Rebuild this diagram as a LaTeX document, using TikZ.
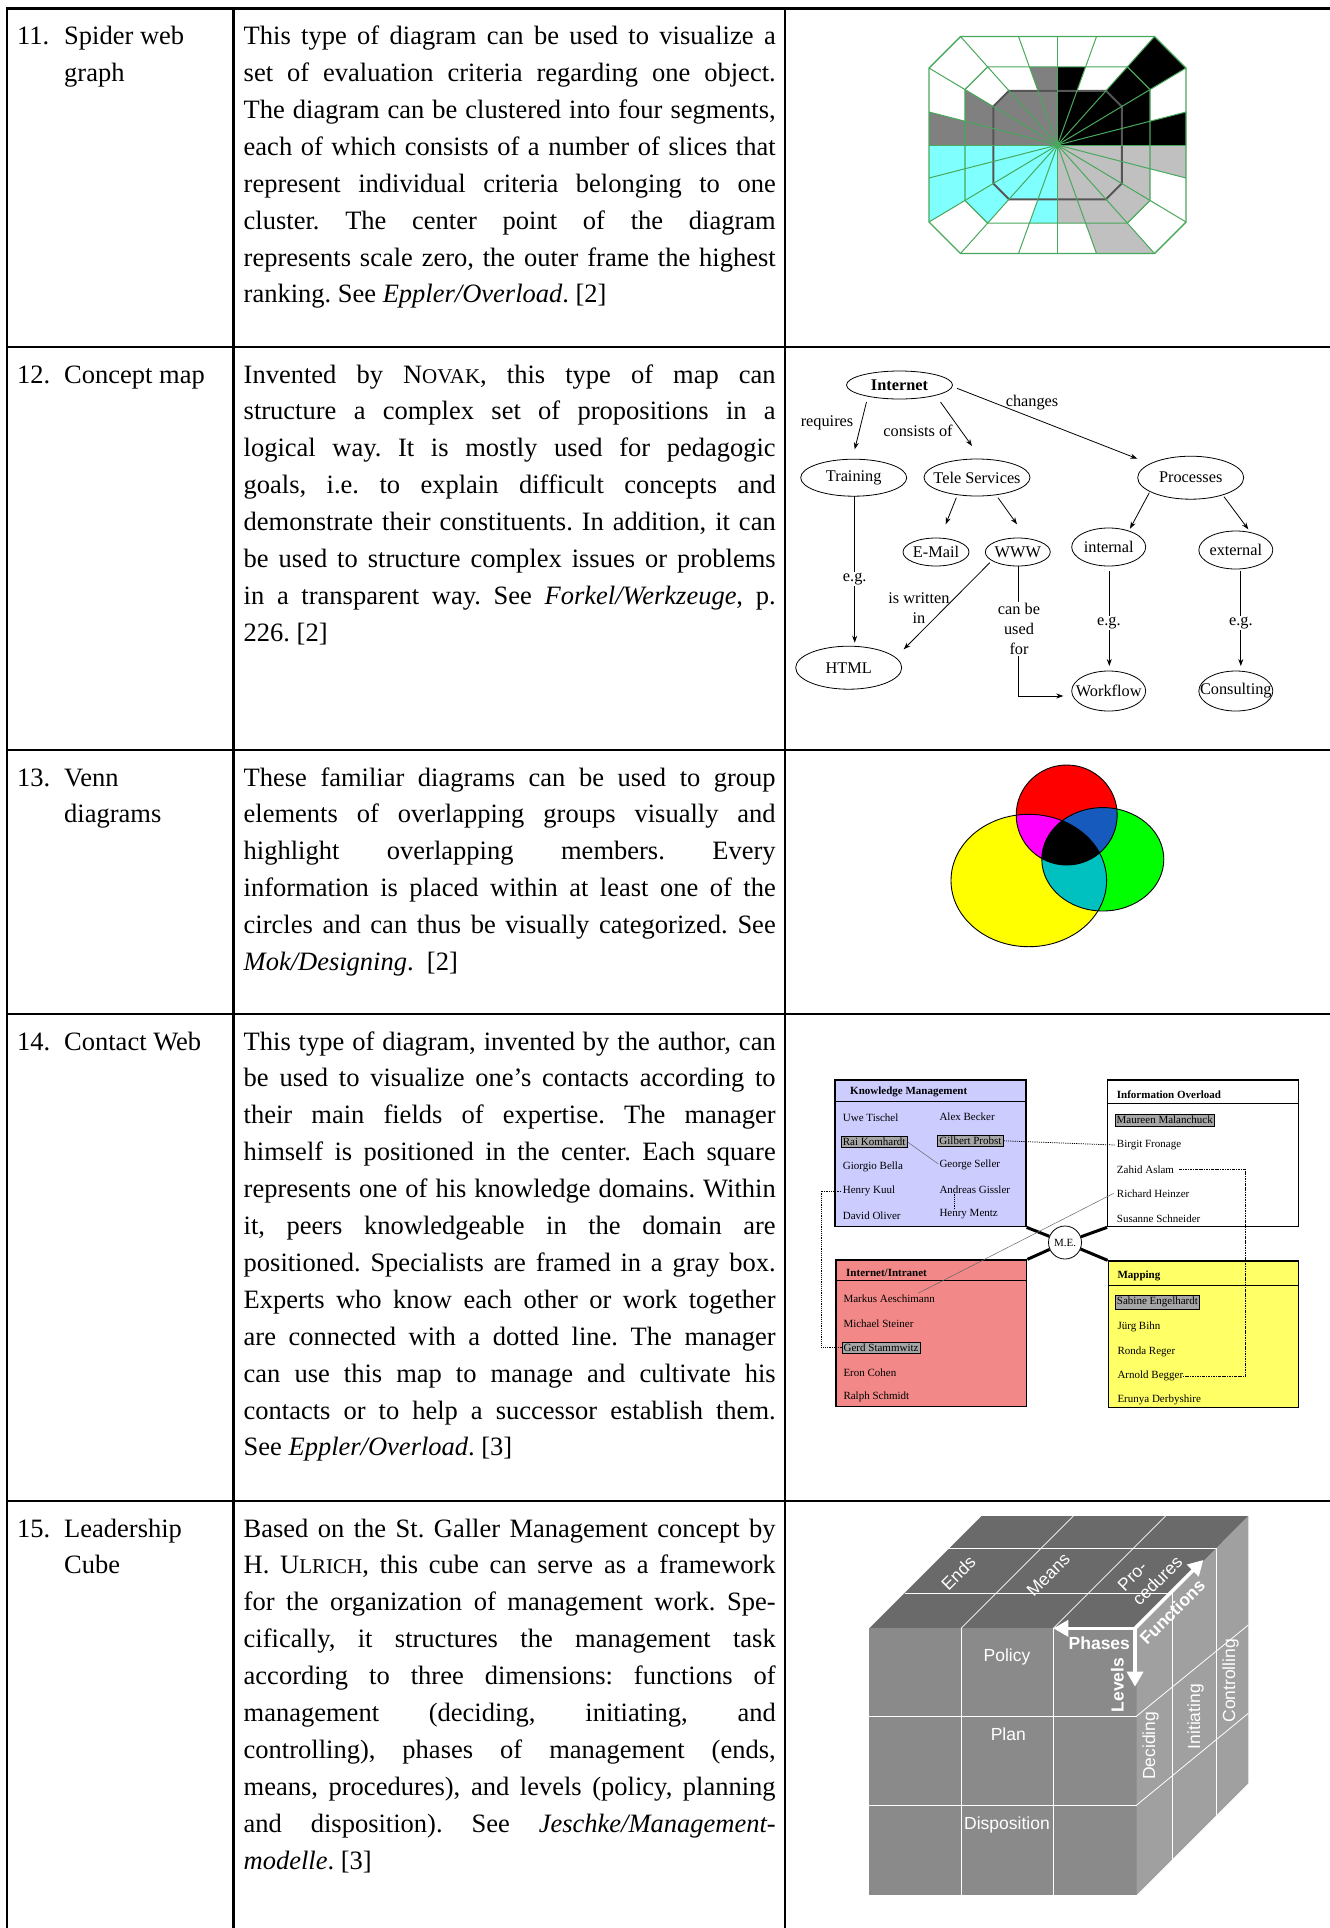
\documentclass[tikz,border=0pt]{standalone}
\usepackage{fontspec}
\setmainfont{Liberation Serif}
\newfontfamily\sansf{Liberation Sans}
\usetikzlibrary{shapes.geometric,arrows.meta,calc}
\frenchspacing

% colours
\definecolor{swgreen}{RGB}{72,168,92}
\definecolor{swdark}{RGB}{128,128,128}
\definecolor{swlight}{RGB}{192,192,192}
\definecolor{swcyan}{RGB}{128,255,255}
\definecolor{swring}{RGB}{85,85,85}
\definecolor{vRed}{RGB}{255,0,0}
\definecolor{vGreen}{RGB}{0,255,0}
\definecolor{vYel}{RGB}{255,255,0}
\definecolor{vMag}{RGB}{255,0,255}
\definecolor{vBlue}{RGB}{22,90,190}
\definecolor{vTeal}{RGB}{0,192,192}
\definecolor{kmBlue}{RGB}{204,204,255}
\definecolor{iiRed}{RGB}{242,136,136}
\definecolor{mapYel}{RGB}{255,255,102}
\definecolor{nameGray}{RGB}{166,166,166}
\definecolor{cubeTop}{RGB}{106,106,106}
\definecolor{cubeFront}{RGB}{138,138,138}
\definecolor{cubeSide}{RGB}{160,160,160}

% fonts
\newcommand\bodyfont{\fontsize{26.5}{36.9}\selectfont}
\newcommand\cmfont{\fontsize{16.3}{20}\selectfont}
\newcommand\cwfont{\fontsize{11}{13}\selectfont}
\newcommand\cubefont{\sansf\fontsize{17.5}{21}\selectfont}

% justified table lines
\newcommand\bodypar[1]{\vtop{\hsize=532pt\relax#1}}
\newcommand\jl[1]{\hbox to 532pt{#1}}
\newcommand\lastl[1]{\hbox{#1}}
\newcommand\smc[1]{{\fontsize{21}{21}\selectfont #1}}
\newcommand\zw[1]{\makebox[0pt]{#1}}

\begin{document}
\begin{tikzpicture}[x=1pt,y=-1pt,
  rule/.style={line width=2.6pt},
  body/.style={anchor=base west, inner sep=0pt, font=\bodyfont},
  cn/.style={ellipse, draw, line width=0.8pt, inner sep=0pt, font=\cmfont},
  lab/.style={inner sep=1pt, font=\cmfont},
  arr/.style={line width=0.8pt, -{Stealth[length=7pt,width=5pt]}},
  cbox/.style={rectangle, draw, line width=1.3pt, inner sep=0pt},
  nm/.style={anchor=west, inner sep=0pt, font=\cwfont},
  gb/.style={anchor=west, draw, fill=nameGray, line width=0.7pt, inner sep=1.8pt, font=\cwfont},
  hd/.style={anchor=west, inner sep=0pt, font=\cwfont\bfseries},
  thickln/.style={line width=3pt},
  grayln/.style={line width=0.5pt, black!60},
  dotln/.style={line width=0.7pt, dash pattern=on 1.2pt off 1pt},
  ddln/.style={line width=1pt, dash pattern=on 2.5pt off 1pt on 0.8pt off 1pt},
  cubelab/.style={inner sep=0pt, font=\cubefont, text=white},
  cubebold/.style={inner sep=0pt, font=\cubefont\bfseries, text=white},
  warr/.style={white, line width=3.6pt, -{Triangle[length=15pt,width=16pt]}}]
\useasboundingbox (0,0) rectangle (1330,1928);

% ---------------- table rules ----------------
\draw[rule] (1330,8.6) -- (7,8.6) -- (7,1928);
\draw[rule] (233.3,8.6) -- (233.3,1928);
\draw[rule] (785,8.6) -- (785,1928);
\foreach \yy in {347,749.8,1014,1501}
  \draw[rule] (7,\yy) -- (1330,\yy);

% ---------------- left column ----------------
\node[body] (n11) at (17,44.6) {11.};
\node[body] (h11) at (64,44.6) {Spider web};
\node[body] (h11b) at (64,81.5) {graph};
\node[body] (n12) at (17,383) {12.};
\node[body] (h12) at (64,383) {Concept map};
\node[body] (n13) at (17,786) {13.};
\node[body] (h13) at (64,786) {Venn};
\node[body] (h13b) at (64,822.9) {diagrams};
\node[body] (n14) at (17,1050) {14.};
\node[body] (h14) at (64,1050) {Contact Web};
\node[body] (n15) at (17,1537) {15.};
\node[body] (h15) at (64,1537) {Leadership};
\node[body] (h15b) at (64,1573.9) {Cube};

% ---------------- descriptions ----------------
\node[body] (t11) at (243.5,44.6) {\bodypar{%
\jl{This type of diagram can be used to visualize a}%
\jl{set of evaluation criteria regarding one object.}%
\jl{The diagram can be clustered into four segments,}%
\jl{each of which consists of a number of slices that}%
\jl{represent individual criteria belonging to one}%
\jl{cluster. The center point of the diagram}%
\jl{represents scale zero, the outer frame the highest}%
\lastl{ranking. See \textit{Eppler/Overload}. [2]}}};

\node[body] (t12) at (243.5,383) {\bodypar{%
\jl{Invented by N\smc{OVAK}, this type of map can}%
\jl{structure a complex set of propositions in a}%
\jl{logical way. It is mostly used for pedagogic}%
\jl{goals, i.e. to explain difficult concepts and}%
\jl{demonstrate their constituents. In addition, it can}%
\jl{be used to structure complex issues or problems}%
\jl{in a transparent way. See \textit{Forkel/Werkzeuge}, p.}%
\lastl{226. [2]}}};

\node[body] (t13) at (243.5,786) {\bodypar{%
\jl{These familiar diagrams can be used to group}%
\jl{elements of overlapping groups visually and}%
\jl{highlight overlapping members. Every}%
\jl{information is placed within at least one of the}%
\jl{circles and can thus be visually categorized. See}%
\lastl{\textit{Mok/Designing}. \ [2]}}};

\node[body] (t14) at (243.5,1050) {\bodypar{%
\jl{This type of diagram, invented by the author, can}%
\jl{be used to visualize one’s contacts according to}%
\jl{their main fields of expertise. The manager}%
\jl{himself is positioned in the center. Each square}%
\jl{represents one of his knowledge domains. Within}%
\jl{it, peers knowledgeable in the domain are}%
\jl{positioned. Specialists are framed in a gray box.}%
\jl{Experts who know each other or work together}%
\jl{are connected with a dotted line. The manager}%
\jl{can use this map to manage and cultivate his}%
\jl{contacts or to help a successor establish them.}%
\lastl{See \textit{Eppler/Overload}. [3]}}};

\node[body] (t15) at (243.5,1537) {\bodypar{%
\jl{Based on the St. Galler Management concept by}%
\jl{H. U\smc{LRICH}, this cube can serve as a framework}%
\jl{for the organization of management work. Spe-}%
\jl{cifically, it structures the management task}%
\jl{according to three dimensions: functions of}%
\jl{management (deciding, initiating, and}%
\jl{controlling), phases of management (ends,}%
\jl{means, procedures), and levels (policy, planning}%
\jl{and disposition). See \textit{Jeschke/Management-}}%
\lastl{\textit{modelle}. [3]}}};

% ---------------- spider web graph ----------------
\coordinate (sw-c) at (1057.5,145);
\foreach \k/\dx/\dy in {0/0/-108.5, 1/39/-108.5, 2/97/-108.5, 3/128.5/-77,
    4/128.5/-33, 5/128.5/0, 6/128.5/33, 7/128.5/77, 8/97/108.5, 9/39/108.5,
    10/0/108.5, 11/-39/108.5, 12/-97/108.5, 13/-128.5/77, 14/-128.5/33,
    15/-128.5/0, 16/-128.5/-33, 17/-128.5/-77, 18/-97/-108.5, 19/-39/-108.5}
  \coordinate (sw-\k) at ($(sw-c)+(\dx,\dy)$);
\foreach \i/\j/\col/\lev in {0/1/black/0.72, 1/2/black/0.5, 2/3/black/1,
    3/4/black/0.72, 4/5/black/1, 5/6/swlight/1, 6/7/swlight/0.72,
    7/8/swlight/0.72, 8/9/swlight/1, 9/10/swlight/0.72, 10/11/swcyan/0.72,
    11/12/swcyan/0.5, 12/13/swcyan/0.72, 13/14/swcyan/1, 14/15/swcyan/1,
    15/16/swdark/1, 16/17/swdark/0.72, 17/18/swdark/0.5, 18/19/swdark/0.5,
    19/0/swdark/0.72}
  \fill[\col] (sw-c) -- ($(sw-c)!\lev!(sw-\i)$) -- ($(sw-c)!\lev!(sw-\j)$) -- cycle;
\draw[swring, line width=2pt] ($(sw-c)!0.5!(sw-0)$)
  \foreach \k in {1,...,19} { -- ($(sw-c)!0.5!(sw-\k)$) } -- cycle;
\foreach \k in {0,...,19}
  \draw[swgreen, line width=1pt] (sw-c) -- (sw-\k);
\draw[swgreen, line width=1.2pt] ($(sw-c)!0.72!(sw-0)$)
  \foreach \k in {1,...,19} { -- ($(sw-c)!0.72!(sw-\k)$) } -- cycle;
\draw[swgreen, line width=1.4pt] (sw-0)
  \foreach \k in {1,...,19} { -- (sw-\k) } -- cycle;

% ---------------- concept map ----------------
\node[cn, minimum width=106, minimum height=28, font=\cmfont\bfseries] (inet) at (899.5,385) {\zw{Internet}};
\node[cn, minimum width=106, minimum height=37] (train) at (853.7,477.7) {\zw{Training}};
\node[cn, minimum width=106, minimum height=37] (tele) at (977,477.5) {\zw{Tele Services}};
\node[cn, minimum width=66, minimum height=28] (email) at (936,552) {\zw{E-Mail}};
\node[cn, minimum width=65, minimum height=28] (www) at (1017.8,552) {\zw{WWW}};
\node[cn, minimum width=106, minimum height=43] (html) at (848.7,667.7) {\zw{HTML}};
\node[cn, minimum width=106, minimum height=43] (proc) at (1190.7,477.7) {\zw{Processes}};
\node[cn, minimum width=74, minimum height=38] (intl) at (1108.7,547) {\zw{internal}};
\node[cn, minimum width=74, minimum height=38] (extl) at (1235.8,550) {\zw{external}};
\node[cn, minimum width=74, minimum height=40] (wflow) at (1108.7,691) {\zw{Workflow}};
\node[cn, minimum width=74, minimum height=40] (cons) at (1235.8,691) {\zw{Consulting}};

\draw[arr] ($(inet)+(-33,17)$) -- ($(train)+(1,-28.4)$);
\draw[arr] ($(inet)+(41,17)$) -- ($(tele)+(-5,-31.5)$);
\draw[arr] ($(inet)+(57.5,3.3)$) -- ($(proc)+(-53.4,-19)$);
\draw[arr] ($(tele)+(-20.7,20.2)$) -- ($(email)+(9.7,-27.7)$);
\draw[arr] ($(tele)+(21,20.2)$) -- ($(www)+(-0.8,-27.7)$);
\draw[arr] ($(train)+(1,18.3)$) -- ($(html)+(6,-25)$);
\draw[arr] ($(www)+(-28,10.7)$) -- ($(html)+(55,-18.4)$);
\draw[arr] ($(www)+(1,14)$) |- ($(wflow)+(-45.4,5)$);
\draw[arr] ($(proc)+(-41.4,15)$) -- ($(intl)+(21.3,-18.3)$);
\draw[arr] ($(proc)+(33.3,19)$) -- ($(extl)+(12.5,-20.7)$);
\draw[arr] ($(intl)+(0.6,24)$) -- ($(wflow)+(0.6,-25)$);
\draw[arr] ($(extl)+(5,21)$) -- ($(cons)+(5,-25)$);

\node[lab] (l-req) at (827,423) {requires};
\node[lab] (l-cons) at (918,431) {consists of};
\node[lab] (l-chg) at (1032,403) {changes};
\node[lab, fill=white] (l-eg1) at (854.7,579) {e.g.};
\node[lab, align=center] (l-wri) at (919,608) {is written\\in};
\node[lab, fill=white, align=center] (l-can) at (1019,629) {can be\\used\\for};
\node[lab, fill=white] (l-eg2) at (1108.8,622.7) {e.g.};
\node[lab, fill=white] (l-eg3) at (1240.8,622.7) {e.g.};

% ---------------- Venn diagram ----------------
\fill[vYel] (1028.8,880.5) ellipse [x radius=77.8pt, y radius=66.2pt];
\fill[vRed] (1066.7,815) ellipse [x radius=50.5pt, y radius=50pt];
\fill[vGreen] (1102.8,859.3) ellipse [x radius=61pt, y radius=51.7pt];
\begin{scope}
  \clip (1066.7,815) ellipse [x radius=50.5pt, y radius=50pt];
  \fill[vMag] (1028.8,880.5) ellipse [x radius=77.8pt, y radius=66.2pt];
  \fill[vBlue] (1102.8,859.3) ellipse [x radius=61pt, y radius=51.7pt];
\end{scope}
\begin{scope}
  \clip (1028.8,880.5) ellipse [x radius=77.8pt, y radius=66.2pt];
  \fill[vTeal] (1102.8,859.3) ellipse [x radius=61pt, y radius=51.7pt];
\end{scope}
\begin{scope}
  \clip (1066.7,815) ellipse [x radius=50.5pt, y radius=50pt];
  \clip (1028.8,880.5) ellipse [x radius=77.8pt, y radius=66.2pt];
  \fill[black] (1102.8,859.3) ellipse [x radius=61pt, y radius=51.7pt];
\end{scope}
\draw[line width=0.9pt] (1028.8,880.5) ellipse [x radius=77.8pt, y radius=66.2pt];
\draw[line width=0.9pt] (1066.7,815) ellipse [x radius=50.5pt, y radius=50pt];
\draw[line width=0.9pt] (1102.8,859.3) ellipse [x radius=61pt, y radius=51.7pt];

% ---------------- contact web ----------------
\node[cbox, fill=kmBlue, minimum width=191, minimum height=146.7] (km) at (930.5,1153.35) {};
\node[cbox, fill=iiRed, minimum width=190.7, minimum height=146.7] (ii) at (931.35,1333.35) {};
\node[cbox, fill=white, minimum width=190.6, minimum height=146.7] (io) at (1203,1153.35) {};
\node[cbox, fill=mapYel, minimum width=190, minimum height=146.7] (mp) at (1203.3,1334.35) {};
\draw[line width=1.1pt] ($(km.north west)+(0,21.7)$) -- ($(km.north east)+(0,21.7)$);
\draw[line width=1.1pt] ($(ii.north west)+(0,21)$) -- ($(ii.north east)+(0,21)$);
\draw[line width=1.1pt] ($(io.north west)+(0,24.3)$) -- ($(io.north east)+(0,24.3)$);
\draw[line width=1.1pt] ($(mp.north west)+(0,24.7)$) -- ($(mp.north east)+(0,24.7)$);

\node[hd] (km-h) at (850,1092) {Knowledge Management};
\node[hd] (ii-h) at (846,1272.5) {Internet/Intranet};
\node[hd] (io-h) at (1116.7,1094.5) {Information Overload};
\node[hd] (mp-h) at (1117.3,1275.5) {Mapping};

\node[nm] (uwe) at (842.7,1117.7) {Uwe Tischel};
\node[gb] (rai) at (840.7,1142) {Rai Komhardt};
\node[nm] (giorgio) at (842.7,1166.7) {Giorgio Bella};
\node[nm] (kuul) at (842.7,1191) {Henry Kuul};
\node[nm] (david) at (842.7,1216) {David Oliver};
\node[nm] (alex) at (939.3,1116.7) {Alex Becker};
\node[gb] (gilbert) at (937.3,1140.8) {Gilbert Probst};
\node[nm] (george) at (939.3,1165) {George Seller};
\node[nm] (andreas) at (939.3,1189.3) {Andreas Gissler};
\node[nm] (mentz) at (939.3,1214.3) {Henry Mentz};

\node[nm] (markus) at (843.3,1298.3) {Markus Aeschimann};
\node[nm] (michael) at (843.3,1323.3) {Michael Steiner};
\node[gb] (gerd) at (841.5,1347.7) {Gerd Stammwitz};
\node[nm] (eron) at (843.3,1372.3) {Eron Cohen};
\node[nm] (ralph) at (843.3,1396.7) {Ralph Schmidt};

\node[gb] (maureen) at (1114.5,1120.2) {Maureen Malanchuck};
\node[nm] (birgit) at (1116.7,1145) {Birgit Fronage};
\node[nm] (zahid) at (1116.7,1169.3) {Zahid Aslam};
\node[nm] (richard) at (1116.7,1193.3) {Richard Heinzer};
\node[nm] (susanne) at (1116.7,1218.3) {Susanne Schneider};

\node[gb] (sabine) at (1114.8,1302.3) {Sabine Engelhardt};
\node[nm] (juerg) at (1117.3,1326.7) {Jürg Bihn};
\node[nm] (ronda) at (1117.3,1351.7) {Ronda Reger};
\node[nm] (arnold) at (1117.3,1376) {Arnold Begger};
\node[nm] (erunya) at (1117.3,1400) {Erunya Derbyshire};

\node[circle, draw, line width=0.8pt, fill=white, minimum size=33pt, inner sep=0pt, font=\cwfont] (me) at (1065,1242.5) {M.E.};
\draw[thickln] (km.south east) -- (me);
\draw[thickln] (ii.north east) -- (me);
\draw[thickln] (io.south west) -- (me);
\draw[thickln] (mp.north west) -- (me);

\draw[grayln] (rai.east) -- ($(george.west)+(-1,-1)$);
\draw[grayln] ($(markus.east)+(-17,-5)$) -- ($(richard.west)+(-3,0)$);
\draw[dotln] (gilbert.east) -- ($(birgit.west)+(-2,0)$);
\draw[dotln] ($(andreas.south west)+(15,1)$) -- ($(mentz.north west)+(15,-1)$);
\draw[ddln] ($(zahid.east)+(5,0)$) -- (1245,0 |- zahid.east) |- (arnold.east);
\draw[dotln] ($(kuul.west)+(-2,0)$) -- (821,0 |- kuul.west) |- (gerd.west);

% ---------------- leadership cube ----------------
\coordinate (F1) at (869.3,1628.3);
\coordinate (F2) at (1136.7,1628.3);
\coordinate (F3) at (1136.7,1895);
\coordinate (B1) at (981.7,1516);
\coordinate (B2) at (1248.3,1516);
\coordinate (B3) at (1248.3,1783.3);
\fill[cubeTop] (F1) -- (F2) -- (B2) -- (B1) -- cycle;
\fill[cubeFront] (F1) rectangle (F3);
\fill[cubeSide] (F2) -- (B2) -- (B3) -- (F3) -- cycle;
\begin{scope}[white, line width=0.8pt]
  \draw (961,1628.3) -- (961,1895);
  \draw (1053.3,1628.3) -- (1053.3,1895);
  \draw (869.3,1716) -- (1136.7,1716);
  \draw (869.3,1805) -- (1136.7,1805);
  \draw (961,1628.3) -- (1073.3,1516);
  \draw (1053.3,1628.3) -- (1165.6,1516);
  \draw (904.6,1593) -- (1172,1593) -- (1172,1859.7);
  \draw (949.3,1548.3) -- (1216.7,1548.3) -- (1216.7,1815);
  \draw (1136.7,1716) -- (1248.3,1625);
  \draw (1136.7,1805) -- (1248.3,1713.3);
\end{scope}
\node[cubelab] (c-pol) at (1007,1656.7) {Policy};
\node[cubelab] (c-plan) at (1008.3,1734) {Plan};
\node[cubelab] (c-disp) at (1007,1825) {Disposition};
\node[cubelab, rotate=45] (c-ends) at (958.3,1573.3) {Ends};
\node[cubelab, rotate=45] (c-means) at (1048.3,1575) {Means};
\node[cubelab, rotate=45, align=left] (c-proc) at (1150,1573.3) {Pro-\\cedures};
\node[cubelab, rotate=90] (c-dec) at (1150.7,1745.7) {Deciding};
\node[cubelab, rotate=90] (c-ini) at (1195.7,1716.7) {Initiating};
\node[cubelab, rotate=90] (c-con) at (1230.7,1680.7) {Controlling};
\coordinate (c-o) at (1135,1628.3);
\draw[warr] (c-o) -- (1053.3,1628.3);
\draw[warr] (c-o) -- (1135,1686.7);
\draw[warr] (c-o) -- (1203.3,1560);
\node[cubebold] (c-pha) at (1099.3,1643.3) {Phases};
\node[cubebold, rotate=90] (c-lev) at (1117.3,1685) {Levels};
\node[cubebold, rotate=45] (c-fun) at (1172.3,1611.7) {Functions};
\end{tikzpicture}
\end{document}
